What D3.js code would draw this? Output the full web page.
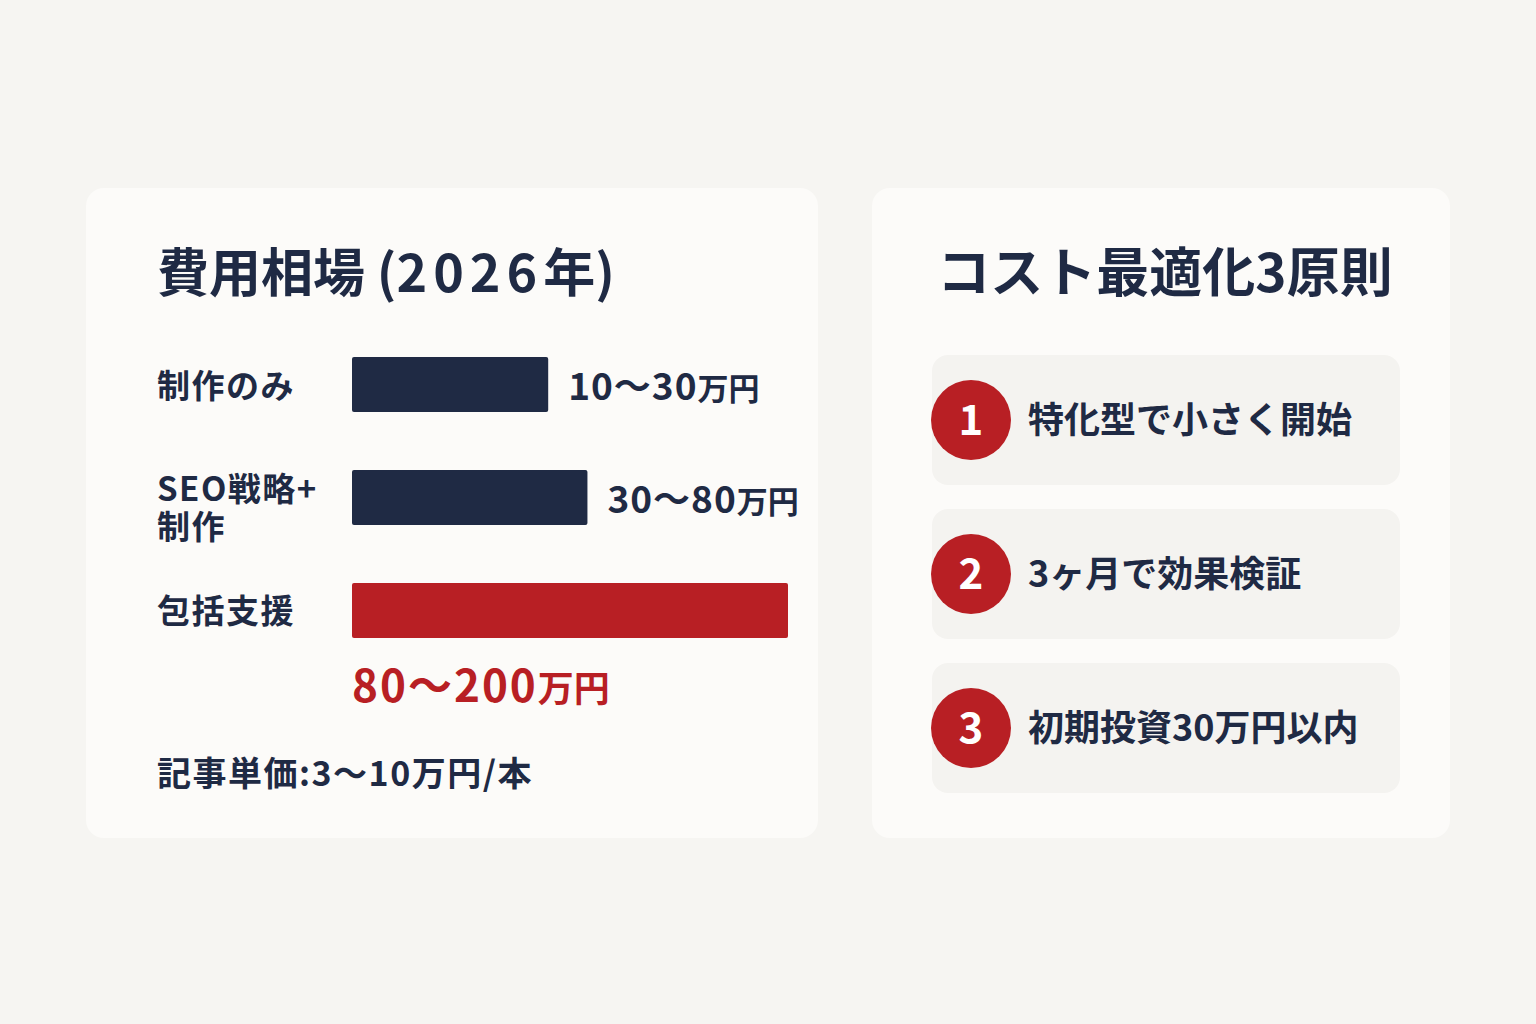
<!DOCTYPE html>
<html>
<head>
<meta charset="utf-8">
<script src="https://cdn.jsdelivr.net/npm/d3@7"></script>
<style>
  html, body { margin: 0; padding: 0; background: #f6f5f2; }
  svg { display: block; font-family: "Noto Sans CJK JP", "Noto Sans", sans-serif; }
</style>
</head>
<body>
<div id="chart"></div>
<script>
// Chart values
const leftTitle = ['費用相場 (', '2026', '年)'];
const rightTitle = 'コスト最適化3原則';
const costCategories = ['制作のみ', 'SEO戦略+\n制作', '包括支援'];
const costRanges = ['10〜30', '30〜80', '80〜200'];
const barScores = [45, 54, 100];   // relative bar length (longest = 100)
const unitLabel = '万円';
const articleNote = '記事単価:3〜10万円/本';
const principleNumbers = ['1', '2', '3'];
const principles = ['特化型で小さく開始', '3ヶ月で効果検証', '初期投資30万円以内'];

function createChart() {
    let width = 1536, height = 1024;
    let navy = '#1f2a44';
    let red = '#b81f24';

    let svg = d3.select('#chart')
        .append('svg')
            .attr('width', width)
            .attr('height', height);

    svg.append('rect')
        .attr('width', width)
        .attr('height', height)
        .attr('fill', '#f6f5f2');

    // Cards
    let cards = [
        {x: 86, y: 188, w: 732, h: 650},
        {x: 872, y: 188, w: 578, h: 650}
    ];
    svg.selectAll('rect.card')
        .data(cards)
        .enter()
        .append('rect')
            .attr('class', 'card')
            .attr('x', d => d.x)
            .attr('y', d => d.y)
            .attr('width', d => d.w)
            .attr('height', d => d.h)
            .attr('rx', 18)
            .attr('fill', '#fcfbf9');

    // ---- Left card: cost bars ----
    let title = svg.append('text')
        .attr('x', 157)
        .attr('y', 292)
        .attr('font-size', 52)
        .attr('font-weight', 700)
        .attr('fill', navy);
    title.selectAll('tspan')
        .data(leftTitle)
        .enter()
        .append('tspan')
            .attr('letter-spacing', (d, i) => i === 1 ? 6 : 0)
            .text(d => d);

    let scX = d3.scaleLinear().domain([0, 100]).range([352, 788]);
    let scY = d3.scaleBand()
        .domain(costCategories)
        .range([357, 638])
        .paddingInner(0.513)
        .paddingOuter(0);

    svg.selectAll('rect.bar')
        .data(costCategories)
        .enter()
        .append('rect')
            .attr('class', 'bar')
            .attr('x', scX(0))
            .attr('y', d => scY(d))
            .attr('width', (d, i) => scX(barScores[i]) - scX(0))
            .attr('height', scY.bandwidth())
            .attr('rx', 2)
            .attr('fill', (d, i) => i === costCategories.length - 1 ? red : navy);

    // Category labels (two-line label sits a little low, as in the original)
    let lineGap = 38;
    let catLabels = svg.selectAll('text.cat')
        .data(costCategories)
        .enter()
        .append('text')
            .attr('class', 'cat')
            .attr('x', 157)
            .attr('font-size', 33)
            .attr('font-weight', 700)
            .attr('letter-spacing', 1.5)
            .attr('fill', navy)
            .attr('y', d => {
                let lines = d.split('\n');
                let mid = scY(d) + scY.bandwidth() / 2;
                return lines.length > 1 ? mid + 3 : mid + 13;
            });
    catLabels.each(function(d) {
        let lines = d.split('\n');
        d3.select(this).selectAll('tspan')
            .data(lines)
            .enter()
            .append('tspan')
                .attr('x', 157)
                .attr('dy', (l, j) => j === 0 ? 0 : lineGap)
                .text(l => l);
    });

    // Value labels: right of bar, or below when bar is full length
    costCategories.forEach((c, i) => {
        let last = i === costCategories.length - 1;
        let t = svg.append('text')
            .attr('font-weight', 700)
            .attr('fill', last ? red : navy)
            .attr('x', last ? scX(0) : scX(barScores[i]) + 20)
            .attr('y', last ? scY(c) + scY.bandwidth() + 64 : scY(c) + scY.bandwidth() / 2 + 15);
        t.append('tspan')
            .attr('font-size', last ? 44 : 37)
            .attr('letter-spacing', last ? 2 : 1)
            .text(costRanges[i]);
        t.append('tspan')
            .attr('font-size', last ? 36 : 31)
            .text(unitLabel);
    });

    svg.append('text')
        .attr('x', 157)
        .attr('y', 786)
        .attr('font-size', 34)
        .attr('font-weight', 700)
        .attr('letter-spacing', 1.5)
        .attr('fill', navy)
        .text(articleNote);

    // ---- Right card: principles ----
    svg.append('text')
        .attr('x', 1165)
        .attr('y', 292)
        .attr('text-anchor', 'middle')
        .attr('font-size', 53)
        .attr('font-weight', 700)
        .attr('fill', navy)
        .text(rightTitle);

    let scP = d3.scaleBand()
        .domain(principleNumbers)
        .range([355, 793])
        .paddingInner(0.156)
        .paddingOuter(0);

    let items = svg.selectAll('g.item')
        .data(principleNumbers)
        .enter()
        .append('g')
            .attr('class', 'item')
            .attr('transform', d => `translate(932,${scP(d)})`);

    items.append('rect')
        .attr('width', 468)
        .attr('height', scP.bandwidth())
        .attr('rx', 16)
        .attr('fill', '#f4f3f0');

    items.append('circle')
        .attr('cx', 39)
        .attr('cy', scP.bandwidth() / 2)
        .attr('r', 40)
        .attr('fill', red);

    items.append('text')
        .attr('x', 39)
        .attr('y', scP.bandwidth() / 2 + 15)
        .attr('text-anchor', 'middle')
        .attr('font-size', 42)
        .attr('font-weight', 700)
        .attr('fill', '#ffffff')
        .text(d => d);

    items.append('text')
        .attr('x', 96)
        .attr('y', scP.bandwidth() / 2 + 13)
        .attr('font-size', 36)
        .attr('font-weight', 700)
        .attr('fill', navy)
        .text((d, i) => principles[i]);
}

createChart();
</script>
</body>
</html>
